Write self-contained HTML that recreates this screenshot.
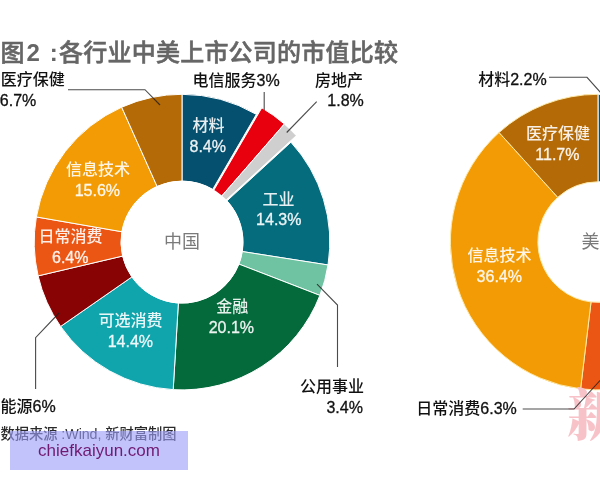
<!DOCTYPE html>
<html lang="zh"><head><meta charset="utf-8"><title>图2 :各行业中美上市公司的市值比较</title>
<style>
html,body{margin:0;padding:0;background:#fff;}
body{width:600px;height:480px;overflow:hidden;position:relative;font-family:"Liberation Sans", "Noto Sans CJK SC", sans-serif;}
svg{position:absolute;left:0;top:0;display:block;}
svg text{font-family:"Liberation Sans", "Noto Sans CJK SC", sans-serif;}
.wm{position:absolute;left:10px;top:431px;width:178px;height:39px;background:rgba(158,158,250,0.62);color:#701a72;font-size:17px;line-height:39px;text-align:center;font-family:"Liberation Sans",sans-serif;}
</style></head><body>
<svg width="600" height="480" viewBox="0 0 600 480">
<path d="M182.00,94.30A147.8,147.8 0 0 1 256.37,114.37L212.69,189.38A61,61 0 0 0 182.00,181.10Z" fill="#05506f" stroke="#fff" stroke-width="1.0" stroke-linejoin="round"/>
<path d="M261.77,107.81A147.8,147.8 0 0 1 284.37,123.99L219.88,198.18A49.5,49.5 0 0 0 212.31,192.76Z" fill="#e9000f" stroke="#fff" stroke-width="1.0" stroke-linejoin="round"/>
<path d="M284.37,123.99A147.8,147.8 0 0 1 296.33,135.64L223.89,202.08A49.5,49.5 0 0 0 219.88,198.18Z" fill="#cfcfcf" stroke="#fff" stroke-width="1.0" stroke-linejoin="round"/>
<path d="M290.92,142.20A147.8,147.8 0 0 1 328.02,264.97L242.27,251.54A61,61 0 0 0 226.95,200.87Z" fill="#056c7e" stroke="#fff" stroke-width="1.0" stroke-linejoin="round"/>
<path d="M328.02,264.97A147.8,147.8 0 0 1 319.86,295.38L238.90,264.09A61,61 0 0 0 242.27,251.54Z" fill="#70c3a2" stroke="#fff" stroke-width="1.0" stroke-linejoin="round"/>
<path d="M319.86,295.38A147.8,147.8 0 0 1 173.19,389.64L178.36,302.99A61,61 0 0 0 238.90,264.09Z" fill="#046a3b" stroke="#fff" stroke-width="1.0" stroke-linejoin="round"/>
<path d="M173.19,389.64A147.8,147.8 0 0 1 60.63,326.44L131.91,276.91A61,61 0 0 0 178.36,302.99Z" fill="#10a4ac" stroke="#fff" stroke-width="1.0" stroke-linejoin="round"/>
<path d="M60.63,326.44A147.8,147.8 0 0 1 38.11,275.89L122.62,256.05A61,61 0 0 0 131.91,276.91Z" fill="#880303" stroke="#fff" stroke-width="1.0" stroke-linejoin="round"/>
<path d="M38.11,275.89A147.8,147.8 0 0 1 36.36,216.94L121.89,231.72A61,61 0 0 0 122.62,256.05Z" fill="#eb5615" stroke="#fff" stroke-width="1.0" stroke-linejoin="round"/>
<path d="M36.36,216.94A147.8,147.8 0 0 1 121.66,107.18L157.10,186.42A61,61 0 0 0 121.89,231.72Z" fill="#f39b05" stroke="#fff" stroke-width="1.0" stroke-linejoin="round"/>
<path d="M121.66,107.18A147.8,147.8 0 0 1 182.00,94.30L182.00,181.10A61,61 0 0 0 157.10,186.42Z" fill="#b46a06" stroke="#fff" stroke-width="1.0" stroke-linejoin="round"/>
<circle cx="182" cy="242.1" r="61.3" fill="#fff"/>
<path d="M638.54,384.29A147.8,147.8 0 0 1 580.60,388.85L591.02,301.97A60.3,60.3 0 0 0 614.66,300.11Z" fill="#eb5615" stroke="#fde9a8" stroke-width="1.0" stroke-linejoin="round"/>
<path d="M580.60,388.85A147.8,147.8 0 0 1 499.07,132.47L557.76,197.37A60.3,60.3 0 0 0 591.02,301.97Z" fill="#f39b05" stroke="#fde9a8" stroke-width="1.0" stroke-linejoin="round"/>
<path d="M499.07,132.47A147.8,147.8 0 0 1 598.20,94.30L598.20,181.80A60.3,60.3 0 0 0 557.76,197.37Z" fill="#b46a06" stroke="#fde9a8" stroke-width="1.0" stroke-linejoin="round"/>
<path d="M598.20,94.30A147.8,147.8 0 0 1 618.57,95.71L606.51,182.38A60.3,60.3 0 0 0 598.20,181.80Z" fill="#05506f" stroke="#fff" stroke-width="1.0" stroke-linejoin="round"/>
<text x="0.7" y="84.7" font-size="16" font-weight="500" fill="#111">医疗保健</text>
<text x="-0.2" y="105.8" font-size="16" font-weight="500" fill="#111" stroke="#111" stroke-width="0.3">6.7%</text>
<text x="192.5" y="86.3" font-size="16" font-weight="500" fill="#111">电信服务<tspan stroke="#111" stroke-width="0.3">3%</tspan></text>
<text x="315.1" y="86.3" font-size="16" font-weight="500" fill="#111">房地产</text>
<text x="327.3" y="106.3" font-size="16" font-weight="500" fill="#111" stroke="#111" stroke-width="0.3">1.8%</text>
<text x="192.6" y="130.8" font-size="16" font-weight="500" fill="rgba(255,255,255,0.9)">材料</text>
<text x="189.5" y="151.9" font-size="16" font-weight="500" fill="rgba(255,255,255,0.9)" stroke="rgba(255,255,255,0.9)" stroke-width="0.3">8.4%</text>
<text x="262.4" y="204.6" font-size="16" font-weight="500" fill="rgba(255,255,255,0.9)">工业</text>
<text x="256.1" y="225.0" font-size="16" font-weight="500" fill="rgba(255,255,255,0.9)" stroke="rgba(255,255,255,0.9)" stroke-width="0.3">14.3%</text>
<text x="216.2" y="312.2" font-size="16" font-weight="500" fill="rgba(255,255,255,0.9)">金融</text>
<text x="208.7" y="333.3" font-size="16" font-weight="500" fill="rgba(255,255,255,0.9)" stroke="rgba(255,255,255,0.9)" stroke-width="0.3">20.1%</text>
<text x="98.6" y="326.0" font-size="16" font-weight="500" fill="rgba(255,255,255,0.9)">可选消费</text>
<text x="107.7" y="346.8" font-size="16" font-weight="500" fill="rgba(255,255,255,0.9)" stroke="rgba(255,255,255,0.9)" stroke-width="0.3">14.4%</text>
<text x="66.0" y="175.0" font-size="16" font-weight="500" fill="rgba(255,255,255,0.9)">信息技术</text>
<text x="74.7" y="195.7" font-size="16" font-weight="500" fill="rgba(255,255,255,0.9)" stroke="rgba(255,255,255,0.9)" stroke-width="0.3">15.6%</text>
<text x="38.5" y="242.4" font-size="16" font-weight="500" fill="rgba(255,255,255,0.9)">日常消费</text>
<text x="52.0" y="263.0" font-size="16" font-weight="500" fill="rgba(255,255,255,0.9)" stroke="rgba(255,255,255,0.9)" stroke-width="0.3">6.4%</text>
<text x="0.6" y="412.0" font-size="16" font-weight="500" fill="#111">能源<tspan stroke="#111" stroke-width="0.3">6%</tspan></text>
<text x="300.0" y="392.4" font-size="16" font-weight="500" fill="#111">公用事业</text>
<text x="326.4" y="413.0" font-size="16" font-weight="500" fill="#111" stroke="#111" stroke-width="0.3">3.4%</text>
<text x="478.2" y="85.1" font-size="16" font-weight="500" fill="#111">材料<tspan stroke="#111" stroke-width="0.3">2.2%</tspan></text>
<text x="526.0" y="139.3" font-size="16" font-weight="500" fill="rgba(255,255,255,0.9)">医疗保健</text>
<text x="535.3" y="160.3" font-size="16" font-weight="500" fill="rgba(255,255,255,0.9)" stroke="rgba(255,255,255,0.9)" stroke-width="0.3">11.7%</text>
<text x="467.4" y="260.5" font-size="16" font-weight="500" fill="rgba(255,255,255,0.9)">信息技术</text>
<text x="476.6" y="282.0" font-size="16" font-weight="500" fill="rgba(255,255,255,0.9)" stroke="rgba(255,255,255,0.9)" stroke-width="0.3">36.4%</text>
<text x="416.3" y="414.0" font-size="16" font-weight="500" fill="#111">日常消费<tspan stroke="#111" stroke-width="0.3">6.3%</tspan></text>
<text x="164.0" y="248.2" font-size="18" font-weight="400" fill="#7a7a7a">中国</text>
<text x="581.5" y="248.2" font-size="18" font-weight="400" fill="#7a7a7a">美国</text>
<text y="61" font-size="24" font-weight="500" fill="#666" stroke="#666" stroke-width="0.55"><tspan x="0.5">图</tspan><tspan x="26.5" font-weight="bold" stroke-width="0">2</tspan><tspan x="43.2" font-weight="bold" stroke-width="0"> :</tspan><tspan x="59" textLength="339" lengthAdjust="spacing">各行业中美上市公司的市值比较</tspan></text>
<text x="0.5" y="439" font-size="14.3" font-weight="500" fill="#2a2a2a" textLength="176" lengthAdjust="spacing">数据来源 :Wind, 新财富制图</text>
<polyline points="68,89.7 145,89.7 160,105" fill="none" stroke="rgba(30,30,30,0.8)" stroke-width="1.1"/>
<polyline points="264.2,92 264.2,110" fill="none" stroke="rgba(30,30,30,0.8)" stroke-width="1.1"/>
<polyline points="316.7,101.7 286.7,132.5" fill="none" stroke="rgba(30,30,30,0.8)" stroke-width="1.1"/>
<polyline points="317,284.2 337.5,305 337.5,367" fill="none" stroke="rgba(30,30,30,0.8)" stroke-width="1.1"/>
<polyline points="59,313 35.6,337.6 35.6,389" fill="none" stroke="rgba(30,30,30,0.8)" stroke-width="1.1"/>
<polyline points="549,77.3 587,77.3 600.5,92.5" fill="none" stroke="rgba(30,30,30,0.8)" stroke-width="1.1"/>
<text x="567" y="434.5" font-size="56" font-weight="900" fill="#f7c3c9" style='font-family:"Liberation Serif", "Noto Serif CJK SC", serif'>新</text>
<polyline points="522.7,409 574,409 600.5,380" fill="none" stroke="rgba(30,30,30,0.8)" stroke-width="1.1"/>
</svg>
<div class="wm">chiefkaiyun.com</div>
</body></html>
